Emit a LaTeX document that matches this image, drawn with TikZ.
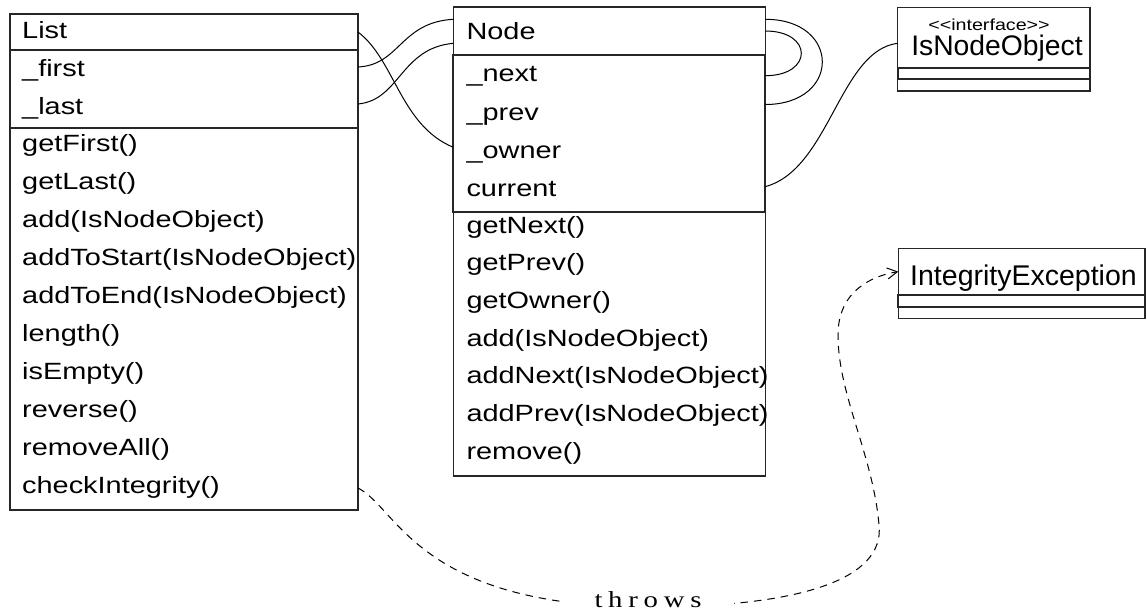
\documentclass[tikz,border=0pt]{standalone}
\usepackage{fontspec}
\setmainfont{Liberation Sans}[FakeStretch=1.23]
\newfontfamily\namefont{Liberation Sans}
\newfontfamily\labelfont{Liberation Serif}[FakeStretch=1.25, WordSpace=0.8]
\usetikzlibrary{arrows.meta,positioning}
\tikzset{
  comp/.style={draw=black!85, line width=1.1pt, anchor=north west, inner sep=0pt, outer sep=0pt},
  attrcomp/.style={comp, line width=1.8pt},
  member/.style={anchor=base west, inner sep=0pt, font=\fontsize{23.5}{26}\selectfont},
  link/.style={draw=black, line width=1pt},
  throwlink/.style={link, dash pattern=on 7.5pt off 6pt, -{Straight Barb[length=10pt,width=11pt]}},
  throwslbl/.style={fill=white, anchor=base, inner xsep=32pt, inner ysep=3pt,
                    font=\labelfont\fontsize{23}{26}\selectfont},
}

\begin{document}
\begin{tikzpicture}[x=1pt,y=-1pt]
  \useasboundingbox (0,0) rectangle (1147,613);
  % class List
  \node[comp, minimum width=348pt, minimum height=36pt] (listhead) at (10,14) {};
  \node[comp, minimum width=348pt, minimum height=382.3pt] (listops) at (10,127.7) {};
  \node[attrcomp, minimum width=348pt, minimum height=77.7pt] (listattr) at (10,50) {};
  \node[member] (listname) at (22,38) {List};
  \node[member] (lfirst) at (22,76) {\_first};
  \node[member] (llast) at (22,114) {\_last};
  \foreach \op [count=\i] in {getFirst(), getLast(), add(IsNodeObject), addToStart(IsNodeObject),
      addToEnd(IsNodeObject), length(), isEmpty(), reverse(), removeAll(), checkIntegrity()}
    \node[member] (lop\i) at (22,{151+38*(\i-1)}) {\op};

  % class Node
  \node[comp, minimum width=312pt, minimum height=48pt] (nodehead) at (453.3,7) {};
  \node[comp, minimum width=312pt, minimum height=264.3pt] (nodeops) at (453.3,211.7) {};
  \node[attrcomp, minimum width=312pt, minimum height=156.7pt] (nodeattr) at (453.3,55) {};
  \node[member] (nodename) at (466.3,39.3) {Node};
  \node[member] (nnext) at (466.3,81.7) {\_next};
  \node[member] (nprev) at (466.3,120) {\_prev};
  \node[member] (nowner) at (466.3,158.3) {\_owner};
  \node[member] (ncurrent) at (466.3,196.6) {current};
  \foreach \op [count=\i] in {getNext(), getPrev(), getOwner(), add(IsNodeObject),
      addNext(IsNodeObject), addPrev(IsNodeObject), remove()}
    \node[member] (nop\i) at (466.3,{233+37.7*(\i-1)}) {\op};

  % interface IsNodeObject
  \node[comp, minimum width=192.3pt, minimum height=60.4pt] (ifhead) at (897.7,7.3) {};
  \node[comp, minimum width=192.3pt, minimum height=11.7pt] (ifops) at (897.7,79.3) {};
  \node[attrcomp, minimum width=192.3pt, minimum height=11.6pt] (ifattr) at (897.7,67.7) {};
  \node[anchor=base, inner sep=0pt, font=\fontsize{16}{18}\selectfont] (ifstereo) at (989,30.5)
    {<\kern0pt<interface>\kern0pt>};
  \node[anchor=base, inner sep=0pt, font=\namefont\fontsize{28.3}{32}\selectfont] (ifname) at (997,55)
    {IsNodeObject};

  % class IntegrityException
  \node[comp, minimum width=246.7pt, minimum height=46.7pt] (exhead) at (898.3,248.3) {};
  \node[comp, minimum width=246.7pt, minimum height=11.6pt] (exops) at (898.3,306.7) {};
  \node[attrcomp, minimum width=246.7pt, minimum height=11.7pt] (exattr) at (898.3,295) {};
  \node[anchor=base west, inner sep=0pt, font=\namefont\fontsize{28.5}{32}\selectfont] (exname)
    at (910,285) {IntegrityException};

  % associations
  \draw[link] ([yshift=6pt]listname.base -| listhead.east)
    .. controls +(37,28) and +(-53,-22) .. ([yshift=11pt]nowner.base -| nodeattr.west);
  \draw[link] ([yshift=9pt]lfirst.base -| listattr.east)
    .. controls +(42,-2) and +(-53,3) .. ([yshift=11.7pt]nodehead.west);
  \draw[link] ([yshift=10pt]llast.base -| listattr.east)
    .. controls +(42,-4) and +(-53,5) .. ([yshift=-12.3pt]nodehead.west);
  \draw[link] (nodehead.east) .. controls +(48,0) and +(48,0) .. ([yshift=6pt]nnext.base -| nodeattr.east);
  \draw[link] ([yshift=11.7pt]nodehead.east)
    .. controls +(76,0) and +(76,0) .. ([yshift=15.5pt]nprev.base -| nodeattr.east);
  \draw[link] ([yshift=10pt]ncurrent.base -| nodeattr.east)
    .. controls +(64,-17) and +(-58,7) .. ([yshift=-5.8pt]ifhead.west);

  % dependency
  \draw[throwlink] ([yshift=5pt]lop10.base -| listops.east) .. controls +(40,20) and +(-230,0) .. (648,607)
    node[throwslbl] (throws) {t h r o w s}
    .. controls +(150,0) and +(6,55) .. (879,525)
    .. controls +(-6,-70) and +(0,60) .. (838,335)
    .. controls +(0,-45) and +(-25,4) .. (exhead.west);
\end{tikzpicture}
\end{document}
